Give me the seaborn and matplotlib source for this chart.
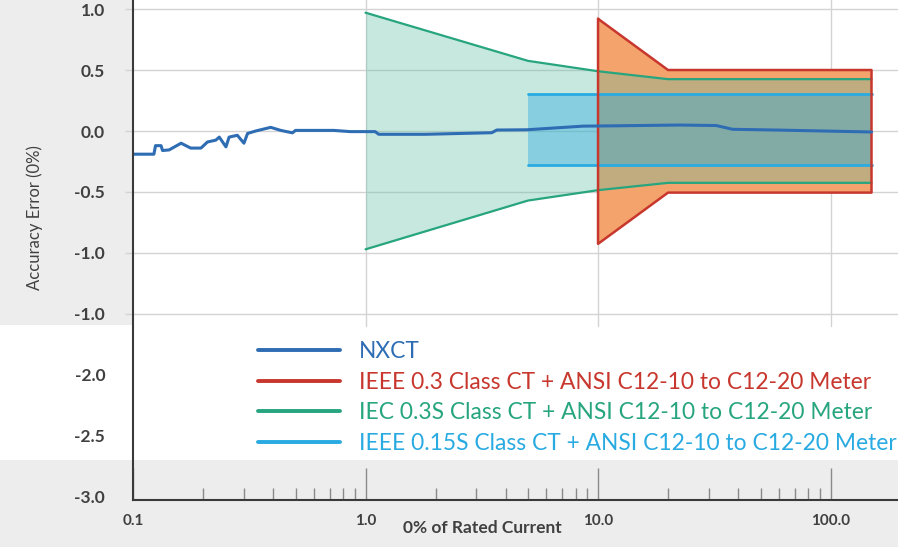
import numpy as np
import pandas as pd
import matplotlib
matplotlib.use("Agg")
import matplotlib.pyplot as plt
import seaborn as sns
from matplotlib.lines import Line2D
from matplotlib.patches import Rectangle
from matplotlib.ticker import LogLocator, NullFormatter

# ---------------- data ----------------
nxct_x = [0.1, 0.123, 0.125, 0.132, 0.134, 0.143, 0.161, 0.177, 0.196, 0.209,
          0.227, 0.235, 0.251, 0.259, 0.281, 0.300, 0.311, 0.337, 0.391, 0.432,
          0.485, 0.50, 0.73, 0.86, 1.10, 1.14, 1.81, 3.49, 3.67, 4.93, 8.62,
          11.2, 22.4, 32.2, 37.9, 58.2, 150.0]
nxct_y = [-0.19, -0.19, -0.12, -0.12, -0.16, -0.155, -0.10, -0.14, -0.14, -0.09,
          -0.075, -0.05, -0.13, -0.05, -0.035, -0.10, -0.02, 0.0, 0.03, 0.005,
          -0.015, 0.005, 0.005, -0.005, -0.005, -0.027, -0.027, -0.014, 0.008, 0.01,
          0.04, 0.042, 0.049, 0.045, 0.014, 0.008, -0.008]

iec_x = [1.0, 5.0, 10.0, 20.0, 150.0]
iec_upper = [0.97, 0.575, 0.49, 0.425, 0.425]
iec_lower = [-0.97, -0.57, -0.485, -0.425, -0.425]

ieee015_x = [5.0, 150.0]
ieee015_upper = [0.305, 0.305]
ieee015_lower = [-0.275, -0.275]

ieee03_x = [10.0, 20.0, 150.0]
ieee03_upper = [0.92, 0.5, 0.5]
ieee03_lower = [-0.925, -0.505, -0.505]

legend_labels = ["NXCT",
                 "IEEE 0.3 Class CT + ANSI C12-10 to C12-20 Meter",
                 "IEC 0.3S Class CT + ANSI C12-10 to C12-20 Meter",
                 "IEEE 0.15S Class CT + ANSI C12-10 to C12-20 Meter"]

x_ticks = [0.1, 1.0, 10.0, 100.0]
x_tick_labels = ["0.1", "1.0", "10.0", "100.0"]
y_ticks = [1.0, 0.5, 0.0, -0.5, -1.0, -1.5, -2.0, -2.5, -3.0]
y_tick_labels = ["1.0", "0.5", "0.0", "-0.5", "-1.0", "-1.0", "-2.0", "-2.5", "-3.0"]
grid_y = [1.0, 0.5, 0.0, -0.5, -1.0, -1.5]
grid_x = [1.0, 10.0, 100.0]

x_label = "0% of Rated Current"
y_label = "Accuracy Error (0%)"

# ---------------- style ----------------
sns.set_theme(style="white")
plt.rcParams["font.family"] = ["Lato", "DejaVu Sans"]

C_NXCT = "#2e6db4"
C_RED = "#c8372d"
C_ORANGE = "#f4a36c"
C_TEAL = "#27a57f"
C_TEAL_FILL = "#5fbfa5"
C_BLUE = "#29abe2"
C_TEXT = "#404040"
C_GRID = "#d3d3d3"
C_BG = "#ededed"

W, H = 898, 547
fig = plt.figure(figsize=(W / 100, H / 100), dpi=100, facecolor=C_BG)
fig.patches.append(Rectangle((0, 87 / H), 1, 135 / H, transform=fig.transFigure,
                             facecolor="white", edgecolor="none", zorder=-5))

ax = fig.add_axes([133 / W, 47 / H, 765 / W, 500 / H])
ax.set_zorder(1)
ax.set_facecolor("white")
ax.set_xscale("log")
y_bot, y_top = -3.025, 1.074
ax.set_xlim(0.1, 195)
ax.set_ylim(y_bot, y_top)

# lower grey band of the scan
ax.axhspan(y_bot, -2.697, color=C_BG, zorder=0, lw=0)

# gridlines
for g in grid_y:
    ax.axhline(g, color=C_GRID, lw=1.0, zorder=0.5)
gfrac = (-1.6 - y_bot) / (y_top - y_bot)
for g in grid_x:
    ax.axvline(g, ymin=gfrac, ymax=1, color=C_GRID, lw=1.0, zorder=0.5)

# bands
ax.fill_between(ieee03_x, ieee03_lower, ieee03_upper, color=C_ORANGE, lw=0, zorder=1)
ax.fill_between(iec_x, iec_lower, iec_upper, color=C_TEAL_FILL, alpha=0.35, lw=0, zorder=2)
ax.fill_between(ieee015_x, ieee015_lower, ieee015_upper, color=C_BLUE, alpha=0.4, lw=0, zorder=3)

# band outlines
sns.lineplot(x=iec_x, y=iec_upper, ax=ax, color=C_TEAL, lw=1.6, zorder=4)
sns.lineplot(x=iec_x, y=iec_lower, ax=ax, color=C_TEAL, lw=1.6, zorder=4)
sns.lineplot(x=ieee015_x, y=ieee015_upper, ax=ax, color=C_BLUE, lw=2.0, zorder=4)
sns.lineplot(x=ieee015_x, y=ieee015_lower, ax=ax, color=C_BLUE, lw=2.0, zorder=4)
red_x = ieee03_x + ieee03_x[::-1] + [ieee03_x[0]]
red_y = ieee03_upper + ieee03_lower[::-1] + [ieee03_upper[0]]
sns.lineplot(x=red_x, y=red_y, ax=ax, color=C_RED, lw=1.8, sort=False,
             estimator=None, zorder=5)

# measured line
sns.lineplot(x=nxct_x, y=nxct_y, ax=ax, color=C_NXCT, lw=2.2, sort=False,
             estimator=None, zorder=6)

# spines
for s in ["top", "right"]:
    ax.spines[s].set_visible(False)
for s in ["left", "bottom"]:
    ax.spines[s].set_color("#3a3a3a")
    ax.spines[s].set_linewidth(1.5)
    ax.spines[s].set_zorder(7)

# x ticks
ax.set_xticks(x_ticks)
ax.set_xticklabels(x_tick_labels)
ax.xaxis.set_minor_locator(LogLocator(base=10, subs=np.arange(2, 10)))
ax.xaxis.set_minor_formatter(NullFormatter())
ax.tick_params(axis="x", which="major", direction="in", length=23, width=1,
               color="#8a8a8a", pad=10, labelsize=11, labelcolor=C_TEXT, bottom=True)
ax.tick_params(axis="x", which="minor", direction="in", length=8.5, width=1,
               color="#8a8a8a", bottom=True)

# y ticks
ax.set_yticks(y_ticks)
ax.set_yticklabels(y_tick_labels)
ax.tick_params(axis="y", which="major", direction="out", length=6, width=1,
               color=C_GRID, pad=14, labelsize=12.5, labelcolor=C_TEXT, left=True)
for t, v in zip(ax.yaxis.get_major_ticks(), y_ticks):
    if v < -1.6:
        t.tick1line.set_visible(False)
for lab in ax.get_yticklabels() + ax.get_xticklabels():
    lab.set_fontweight("bold")

# axis labels
ax.set_xlabel(x_label, fontsize=12.5, color=C_TEXT, fontweight="bold")
ax.xaxis.set_label_coords((482 - 133) / 765, -28 / 500)
ax.xaxis.label.set_va("center")
ax.set_ylabel(y_label, fontsize=12, color=C_TEXT)
ax.yaxis.set_label_coords((35 - 133) / 765, (500 - 218) / 500)
ax.yaxis.label.set_va("center")

# legend
handles = [Line2D([], [], color=c, lw=2.8) for c in [C_NXCT, C_RED, C_TEAL, C_BLUE]]
leg = ax.legend(handles, legend_labels, loc="upper left",
                bbox_to_anchor=(258 / W, 1 - 341 / H), bbox_transform=fig.transFigure,
                frameon=False, fontsize=16.4, handlelength=3.6, handletextpad=0.85,
                labelspacing=0.42, borderpad=0, borderaxespad=0)
for txt, c in zip(leg.get_texts(), [C_NXCT, C_RED, C_TEAL, C_BLUE]):
    txt.set_color(c)

fig.savefig("out.png", dpi=100, facecolor=fig.get_facecolor())
